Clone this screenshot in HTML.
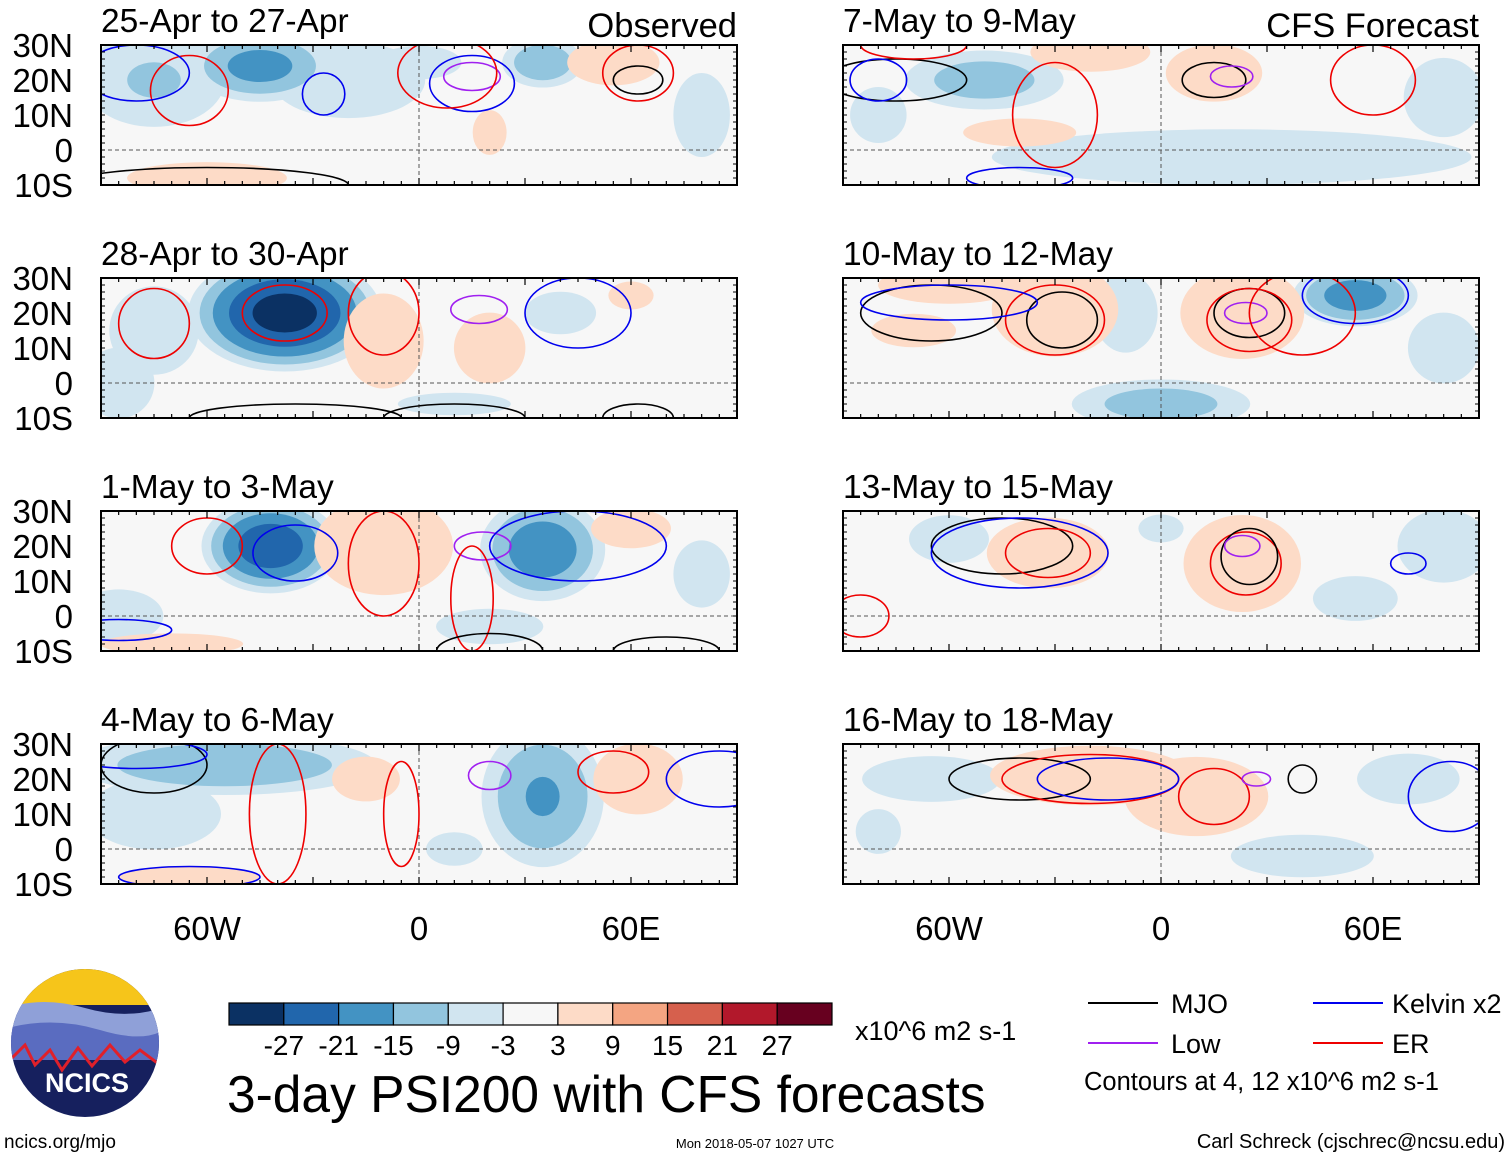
<!DOCTYPE html>
<html><head><meta charset="utf-8"><style>
body{margin:0;background:#fff;width:1510px;height:1158px;overflow:hidden;font-family:"Liberation Sans",sans-serif}
svg text{font-family:"Liberation Sans",sans-serif}
</style></head><body>
<svg id="root" width="1510" height="1158" xmlns="http://www.w3.org/2000/svg"></svg>
<script>
const panelTitles=["25-Apr to 27-Apr","28-Apr to 30-Apr","1-May to 3-May","4-May to 6-May","7-May to 9-May","10-May to 12-May","13-May to 15-May","16-May to 18-May"];
// anomaly blobs: [lon, lat, rxDeg, ryDeg, peak]
const blobs=[
 [[-45,24,14,7,-18],[-75,20,15,10,-10],[-20,20,18,9,-7],[35,25,8,5,-15],[0,25,15,6,-4],[55,25,10,5,9],[-60,-8,20,4,6],[20,5,6,8,4],[80,10,10,15,-4]],
 [[-38,20,18,11,-30],[-75,15,10,10,-8],[-10,12,10,12,6],[20,10,10,10,5],[40,20,10,6,-5],[-85,0,8,8,-8],[60,25,8,5,4],[10,-6,20,4,-4]],
 [[-42,20,13,9,-26],[35,19,12,10,-20],[-10,20,14,10,13],[60,25,10,5,6],[-85,0,10,6,-8],[-70,-8,20,3,5],[20,-3,15,5,-5],[80,12,10,12,-4]],
 [[-55,24,30,6,-15],[35,15,12,14,-16],[-75,10,15,8,-8],[62,20,10,8,8],[-15,20,12,8,4],[-65,-8,20,3,5],[10,0,10,6,-4]],
 [[-50,20,16,6,-13],[20,-2,60,7,-6],[80,15,10,10,-6],[15,22,10,6,11],[-40,5,20,5,4],[-20,28,15,5,6],[-80,10,10,10,-4]],
 [[-30,21,12,9,23],[23,20,12,9,18],[-60,28,15,4,10],[55,25,12,6,-19],[0,-6,18,5,-13],[-10,20,8,10,-6],[80,10,10,10,-5],[-70,15,15,6,4]],
 [[-32,18,12,7,16],[23,15,12,10,12],[80,20,10,8,-9],[-60,22,10,6,-6],[55,5,15,8,-4],[0,25,8,5,-4]],
 [[-20,21,20,6,14],[10,15,18,10,6],[-65,20,15,5,-9],[70,20,12,6,-7],[40,-2,20,6,-5],[-80,5,8,8,-4]]
];
// contour ellipses: [lon, lat, rxDeg, ryDeg, type]
const contours=[
 [[-65,17,11,10,"er"],[-27,16,6,6,"kv"],[15,21,8,4,"low"],[15,19,12,8,"kv"],[8,22,14,10,"er"],[62,20,7,4,"mjo"],[-60,-10,40,5,"mjo"],[62,22,10,8,"er"],[-80,22,15,8,"kv"]],
 [[-75,17,10,10,"er"],[-38,20,12,8,"er"],[-10,20,10,12,"er"],[17,21,8,4,"low"],[45,20,15,10,"kv"],[-35,-10,30,4,"mjo"],[10,-10,20,4,"mjo"],[62,-10,10,4,"mjo"]],
 [[-60,20,10,8,"er"],[-35,18,12,8,"kv"],[-10,15,10,15,"er"],[18,20,8,4,"low"],[45,20,25,10,"kv"],[15,5,6,15,"er"],[-85,-4,15,3,"kv"],[20,-10,15,5,"mjo"],[70,-10,15,4,"mjo"]],
 [[-75,24,15,8,"mjo"],[-80,27,20,4,"kv"],[-40,10,8,20,"er"],[20,21,6,4,"low"],[55,22,10,6,"er"],[85,20,15,8,"kv"],[-65,-8,20,3,"kv"],[-5,10,5,15,"er"]],
 [[-75,20,20,6,"mjo"],[-30,10,12,15,"er"],[15,20,9,5,"mjo"],[20,21,6,3,"low"],[60,20,12,10,"er"],[-70,30,15,4,"er"],[-40,-8,15,3,"kv"],[-80,20,8,6,"kv"]],
 [[-65,20,20,8,"mjo"],[-30,18,14,10,"er"],[-28,18,10,8,"mjo"],[25,20,10,7,"mjo"],[25,18,12,9,"er"],[24,20,6,3,"low"],[-60,23,25,5,"kv"],[40,20,15,12,"er"],[55,25,15,8,"kv"]],
 [[-45,20,20,8,"mjo"],[-40,18,25,10,"kv"],[-32,18,12,7,"er"],[24,15,10,9,"er"],[25,17,8,8,"mjo"],[23,20,5,3,"low"],[70,15,5,3,"kv"],[-85,0,8,6,"er"]],
 [[-40,20,20,6,"mjo"],[-20,20,25,7,"er"],[-15,20,20,6,"kv"],[15,15,10,8,"er"],[40,20,4,4,"mjo"],[27,20,4,2,"low"],[82,15,12,10,"kv"]]
];
const cbLabels=["-27","-21","-15","-9","-3","3","9","15","21","27"];
const cbColors=["#0b3163","#2166ac","#4393c3","#92c5de","#d1e5f0","#f7f7f7","#fddbc7","#f4a582","#d6604d","#b2182b","#67001f"];
const lvlNeg=[[-27,"#0b3163"],[-21,"#2166ac"],[-15,"#4393c3"],[-9,"#92c5de"],[-3,"#d1e5f0"]];
const lvlPos=[[3,"#fddbc7"],[9,"#f4a582"],[15,"#d6604d"],[21,"#b2182b"],[27,"#67001f"]];
const ctColor={mjo:"#000",low:"#a020f0",kv:"#0000ee",er:"#ee0000"};

const NS="http://www.w3.org/2000/svg";
const root=document.getElementById('root');
function el(tag,attrs,parent){const e=document.createElementNS(NS,tag);for(const k in attrs)e.setAttribute(k,attrs[k]);(parent||root).appendChild(e);return e;}
const PW=636,PH=140;
const panelX=[101,101,101,101,843,843,843,843];
const panelY=[45,278,511,744,45,278,511,744];
function xs(x0,lon){return x0+(lon+90)/180*PW;}
function ys(y0,lat){return y0+(30-lat)/40*PH;}

for(let p=0;p<8;p++){
  const x0=panelX[p],y0=panelY[p];
  const g=el('g',{});
  
  
  const cpath=el('clipPath',{id:'c'+p},g);
  el('rect',{x:x0,y:y0,width:PW,height:PH},cpath);
  const inner=el('g',{'clip-path':'url(#c'+p+')'},g);
  el('rect',{x:x0,y:y0,width:PW,height:PH,fill:'#f7f7f7'},inner);
  for(let li=0;li<5;li++){
    for(const b of blobs[p]){
      const arr=b[4]<0?lvlNeg:lvlPos;
      const lv=arr[4-li];
      if(Math.abs(b[4])<=Math.abs(lv[0]))continue;
      const f=Math.sqrt(1-Math.abs(lv[0])/Math.abs(b[4]));
      const e=el('ellipse',{cx:xs(x0,b[0]),cy:ys(y0,b[1]),rx:b[2]*f*PW/180*1.6,ry:b[3]*f*PH/40*1.6,fill:lv[1]},inner);
      
      
    }
  }
  el('line',{x1:x0,x2:x0+PW,y1:ys(y0,0),y2:ys(y0,0),stroke:'#555','stroke-dasharray':'4,3','stroke-width':1},inner);
  el('line',{x1:xs(x0,0),x2:xs(x0,0),y1:y0,y2:y0+PH,stroke:'#555','stroke-dasharray':'4,3','stroke-width':1},inner);
  for(const c of contours[p]){
    const e=el('ellipse',{cx:xs(x0,c[0]),cy:ys(y0,c[1]),rx:c[2]*PW/180,ry:c[3]*PH/40,fill:'none',stroke:ctColor[c[4]],'stroke-width':1.6},inner);
    
    
  }
  el('rect',{x:x0,y:y0,width:PW,height:PH,fill:'none',stroke:'#000','stroke-width':2},g);
  for(let lon=-90;lon<=90;lon+=5){
    const x=xs(x0,lon),L=lon%30==0?7:4;
    el('line',{x1:x,x2:x,y1:y0,y2:y0+L,stroke:'#000','stroke-width':1.2},g);
    el('line',{x1:x,x2:x,y1:y0+PH,y2:y0+PH-L,stroke:'#000','stroke-width':1.2},g);
  }
  for(let lat=-10;lat<=30;lat+=2){
    const y=ys(y0,lat);
    el('line',{x1:x0,x2:x0+4,y1:y,y2:y,stroke:'#000','stroke-width':1},g);
    el('line',{x1:x0+PW,x2:x0+PW-4,y1:y,y2:y,stroke:'#000','stroke-width':1},g);
  }
  const t=el('text',{x:x0,y:y0-13,'font-size':33.5,fill:'#000'},g);t.textContent=panelTitles[p];
  
  if(p<4){
    const labs=["30N","20N","10N","0","10S"];
    for(let i=0;i<5;i++){
      const tt=el('text',{x:73,y:ys(y0,30-10*i)+12,'font-size':33,'text-anchor':'end'},g);tt.textContent=labs[i];
      
    }
  }
  if(p==3||p==7){
    [[-60,"60W"],[0,"0"],[60,"60E"]].forEach(a=>{
      const tt=el('text',{x:xs(x0,a[0]),y:940,'font-size':33,'text-anchor':'middle'},g);tt.textContent=a[1];
      
    });
  }
}
function txt(x,y,s,size,name,anchor){const t=el('text',{x:x,y:y,'font-size':size,'text-anchor':anchor||'start'});t.textContent=s;return t;}
txt(737,37,"Observed",34.5,"observed-label","end");
txt(1479,37,"CFS Forecast",34.5,"cfs-forecast-label","end");
const cbx=229,cbw=603/11;
cbColors.forEach((c,i)=>{const r=el('rect',{x:cbx+i*cbw,y:1003,width:cbw,height:22,fill:c,stroke:'#000','stroke-width':1.2});});
cbLabels.forEach((s,i)=>txt(cbx+(i+1)*cbw,1055,s,28,"colorbar-label","middle"));
txt(855,1040,"x10^6 m2 s-1",27,"colorbar-units");
txt(227,1112,"3-day PSI200 with CFS forecasts",51.5,"figure-title");
[[1088,1003,"mjo","MJO",1171],[1088,1043,"low","Low",1171],[1313,1003,"kv","Kelvin x2",1392],[1313,1043,"er","ER",1392]].forEach(a=>{
  const l=el('line',{x1:a[0],x2:a[0]+70,y1:a[1],y2:a[1],stroke:ctColor[a[2]],'stroke-width':2});
  
  txt(a[4],a[1]+10,a[3],27,"legend-entry");
});
txt(1084,1090,"Contours at 4, 12 x10^6 m2 s-1",25.5,"contour-note");
txt(4,1148,"ncics.org/mjo",19,"footer-url");
txt(755,1148,"Mon 2018-05-07 1027 UTC",13,"footer-date","middle");
txt(1505,1148,"Carl Schreck (cjschrec@ncsu.edu)",20,"footer-author","end");
const lg=el('g',{});
const lcp=el('clipPath',{id:'lc'},lg);el('circle',{cx:85,cy:1043,r:74},lcp);
const lgi=el('g',{'clip-path':'url(#lc)'},lg);
el('rect',{x:0,y:960,width:170,height:170,fill:'#16205e'},lgi);
el('rect',{x:0,y:960,width:170,height:45,fill:'#f6c51a'},lgi);
el('path',{d:'M0 1010 Q40 995 85 1008 T170 1005 L170 1040 L0 1040Z',fill:'#8fa0d8'},lgi);
el('path',{d:'M0 1030 Q50 1015 100 1030 T170 1025 L170 1060 L0 1060Z',fill:'#5a6cc0'},lgi);
el('path',{d:'M10 1060 L25 1045 L35 1065 L50 1050 L62 1070 L78 1048 L92 1066 L110 1045 L125 1062 L140 1050 L160 1065',fill:'none',stroke:'#e0202a','stroke-width':3},lgi);
const lt=txt(87,1092,"NCICS",27,"logo-text","middle");lt.setAttribute('fill','#fff');lt.setAttribute('font-weight','bold');
</script>
</body></html>
